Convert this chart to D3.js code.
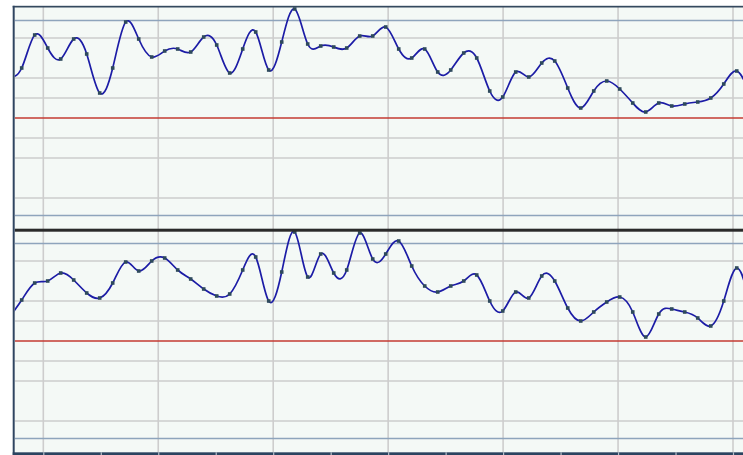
<!DOCTYPE html>
<html>
<head>
<meta charset="utf-8">
<script src="https://cdn.jsdelivr.net/npm/d3@7"></script>
<style>
  body { margin: 0; background: #ffffff; }
  svg { display: block; }
</style>
</head>
<body>
<div id="chart"></div>
<script>
// Two stacked trace panels, samples drawn as a smooth spline with square markers

// Sample timing (minutes)
const firstSample = -0.301;
const sampleInterval = 0.1131;

// Upper trace values (deviation from the red baseline)
const topTrace = [41, 50, 83, 70, 59, 79, 64, 25, 50, 96, 79, 61, 67, 69, 66, 81, 73, 45, 69,
  86, 48, 76, 109, 74, 72, 71, 70, 82, 82, 91, 69, 60, 69, 46, 48, 65, 60, 27,
  21, 46, 41, 55, 57, 30, 10, 27, 37, 29, 15, 6, 15, 12, 14, 16, 20, 34, 47, 25];

// Lower trace values
const bottomTrace = [23, 41, 58, 60, 68, 61, 48, 43, 58, 79, 70, 80, 83, 71, 62, 52, 45, 47, 71,
  84, 40, 69, 109, 64, 87, 68, 71, 108, 82, 87, 100, 75, 55, 49, 55, 60, 66, 40,
  30, 49, 43, 65, 60, 33, 20, 29, 39, 44, 29, 4, 27, 32, 29, 23, 15, 40, 73, 40];

// Grid / reference values
const gridMinutes = [0, 1, 2, 3, 4, 5, 6];
const tickMinutes = [-0.5, 0, 0.5, 1, 1.5, 2, 2.5, 3, 3.5, 4, 4.5, 5, 5.5, 6, 6.5];
const gridLevels = [-80, -40, -20, 20, 40, 80];
const limitLevels = [-97.5, 97.5];
const baseline = 0;

const width = 743;
const height = 455;
const plotLeft = 14.7;

const svg = d3.select('#chart').append('svg')
  .attr('width', width)
  .attr('height', height);

// Time scale shared by both panels
const x = d3.scaleLinear()
  .domain([0, 6])
  .range([43.3, 733]);

// Panel definitions
const panels = [
  { id: 'p1', top: 7, bottom: 229, values: topTrace },
  { id: 'p2', top: 230, bottom: 452, values: bottomTrace }
];

const defs = svg.append('defs');

panels.forEach(p => {
  const y = d3.scaleLinear()
    .domain([-111, 111])
    .range([p.bottom, p.top]);

  defs.append('clipPath')
    .attr('id', 'clip-' + p.id)
    .append('rect')
    .attr('x', plotLeft)
    .attr('y', p.top)
    .attr('width', width - plotLeft)
    .attr('height', p.bottom - p.top);

  const g = svg.append('g').attr('clip-path', `url(#clip-${p.id})`);

  // background
  g.append('rect')
    .attr('x', plotLeft)
    .attr('y', p.top)
    .attr('width', width - plotLeft)
    .attr('height', p.bottom - p.top)
    .attr('fill', '#f4f9f6');

  // horizontal grid
  g.selectAll('.hgrid')
    .data(gridLevels)
    .enter().append('line')
    .attr('x1', plotLeft).attr('x2', width)
    .attr('y1', d => y(d)).attr('y2', d => y(d))
    .attr('stroke', '#cdcdcd')
    .attr('stroke-width', 1.6);

  // vertical grid
  g.selectAll('.vgrid')
    .data(gridMinutes)
    .enter().append('line')
    .attr('x1', d => x(d)).attr('x2', d => x(d))
    .attr('y1', p.top).attr('y2', p.bottom)
    .attr('stroke', '#cdcdcd')
    .attr('stroke-width', 1.6);

  // limit lines
  g.selectAll('.limit')
    .data(limitLevels)
    .enter().append('line')
    .attr('x1', plotLeft).attr('x2', width)
    .attr('y1', d => y(d)).attr('y2', d => y(d))
    .attr('stroke', '#8ea4bc')
    .attr('stroke-width', 1.5);

  // baseline
  g.append('line')
    .attr('x1', plotLeft).attr('x2', width)
    .attr('y1', y(baseline)).attr('y2', y(baseline))
    .attr('stroke', '#c43a32')
    .attr('stroke-width', 1.3);

  const pts = p.values.map((v, i) => ({ t: firstSample + i * sampleInterval, v: v }));

  const line = d3.line()
    .x(d => x(d.t))
    .y(d => y(d.v))
    .curve(d3.curveNatural);

  g.append('path')
    .datum(pts)
    .attr('d', line)
    .attr('fill', 'none')
    .attr('stroke', '#1c1ca6')
    .attr('stroke-width', 1.7);

  g.selectAll('.marker')
    .data(pts)
    .enter().append('rect')
    .attr('x', d => x(d.t) - 1.8)
    .attr('y', d => y(d.v) - 1.8)
    .attr('width', 3.6)
    .attr('height', 3.6)
    .attr('fill', '#2e4a5c');
});

// separator between panels
svg.append('rect')
  .attr('x', plotLeft)
  .attr('y', 228.7)
  .attr('width', width - plotLeft)
  .attr('height', 3)
  .attr('fill', '#2a2a2a');

// top border
svg.append('rect')
  .attr('x', 12.7)
  .attr('y', 5.8)
  .attr('width', width - 12.7)
  .attr('height', 1.7)
  .attr('fill', '#34495e');

// left border
svg.append('rect')
  .attr('x', 12.7)
  .attr('y', 5.8)
  .attr('width', 2)
  .attr('height', height - 5.8)
  .attr('fill', '#2f4560');

// bottom axis bar with ticks
svg.append('rect')
  .attr('x', 12.7)
  .attr('y', 452.3)
  .attr('width', width - 12.7)
  .attr('height', 3)
  .attr('fill', '#2b4460');

const axis = svg.append('g')
  .attr('transform', 'translate(0,452.3)')
  .call(d3.axisBottom(x).tickValues(tickMinutes).tickSize(3).tickFormat(''));
axis.select('.domain').remove();
axis.selectAll('.tick line')
  .attr('stroke', '#b9c2cc')
  .attr('stroke-width', 1.2);
</script>
</body>
</html>
